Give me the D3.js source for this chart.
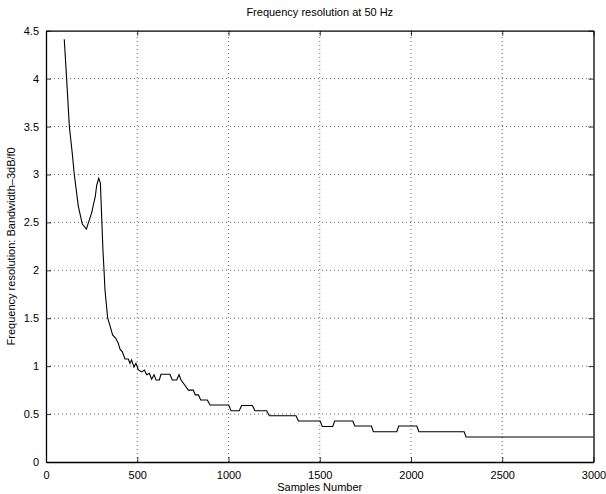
<!DOCTYPE html>
<html><head><meta charset="utf-8">
<script src="https://cdn.jsdelivr.net/npm/d3@7"></script>
<style>
body{margin:0;background:#fff;}
svg{display:block;font-family:"Liberation Sans",Arial,Helvetica,sans-serif;}
</style></head>
<body>
<script>
const titleText = "Frequency resolution at 50 Hz";
const xLabel = "Samples Number";
const yLabel = "Frequency resolution: Bandwidth\u20133dB/f0";
const xTicks = [0, 500, 1000, 1500, 2000, 2500, 3000];
const yTicks = [0, 0.5, 1, 1.5, 2, 2.5, 3, 3.5, 4, 4.5];
const samples = [100,113,128,144,155,177,199,205,221,250,270,278,289,298,312,318,323,338,351,365,382,396,405,418,433,451,460,469,482,493,506,524,539,552,566,579,592,603,621,630,679,692,716,729,740,756,780,807,818,835,848,884,899,1001,1014,1059,1072,1131,1145,1209,1224,1370,1383,1502,1514,1571,1582,1681,1692,1783,1794,1922,1933,2032,2043,2291,2302,3000];
const resolution = [4.41,4.0,3.5,3.22,3.0,2.67,2.48,2.47,2.43,2.60,2.77,2.89,2.96,2.91,2.21,2.0,1.80,1.50,1.42,1.326,1.29,1.24,1.18,1.15,1.075,1.075,1.03,1.065,0.99,1.03,0.96,0.94,0.96,0.91,0.925,0.863,0.91,0.856,0.856,0.915,0.915,0.856,0.856,0.91,0.856,0.814,0.75,0.75,0.70,0.70,0.647,0.647,0.595,0.595,0.535,0.535,0.59,0.59,0.535,0.535,0.483,0.483,0.428,0.428,0.37,0.37,0.428,0.428,0.376,0.376,0.316,0.316,0.376,0.376,0.316,0.316,0.261,0.261];

const W = 606, H = 494;
const m = {left:46, right:606-593.5, top:30.7, bottom:494-462};
const svg = d3.select("body").append("svg").attr("width",W).attr("height",H);
const x = d3.scaleLinear().domain([0,3000]).range([m.left, W-m.right]);
const y = d3.scaleLinear().domain([0,4.5]).range([H-m.bottom, m.top]);

// grid
const g = svg.append("g");
g.selectAll(".vg").data(xTicks.slice(1,-1)).join("line")
  .attr("x1",d=>x(d)).attr("x2",d=>x(d)).attr("y1",y(0)).attr("y2",y(4.5))
  .attr("stroke","#000").attr("stroke-width",0.6).attr("stroke-dasharray","1,3");
g.selectAll(".hg").data(yTicks.slice(1,-1)).join("line")
  .attr("y1",d=>y(d)).attr("y2",d=>y(d)).attr("x1",x(0)).attr("x2",x(3000))
  .attr("stroke","#000").attr("stroke-width",0.6).attr("stroke-dasharray","1,3");

// axes (inward ticks)
const fs = "11px";
const xa = svg.append("g").attr("transform",`translate(0,${y(0)})`)
  .call(d3.axisBottom(x).tickValues(xTicks).tickSizeInner(-5).tickSizeOuter(0).tickPadding(9).tickFormat(d3.format("d")));
const xt = svg.append("g").attr("transform",`translate(0,${y(4.5)})`)
  .call(d3.axisTop(x).tickValues(xTicks).tickSizeInner(-5).tickSizeOuter(0).tickFormat(""));
const ya = svg.append("g").attr("transform",`translate(${x(0)},0)`)
  .call(d3.axisLeft(y).tickValues(yTicks).tickSizeInner(-5).tickSizeOuter(0).tickPadding(9).tickFormat(d=>String(d)));
const yr = svg.append("g").attr("transform",`translate(${x(3000)},0)`)
  .call(d3.axisRight(y).tickValues(yTicks).tickSizeInner(-5).tickSizeOuter(0).tickFormat(""));
[xa,xt,ya,yr].forEach(a=>{
  a.select(".domain").attr("stroke","#000").attr("stroke-width",1.3);
  a.selectAll(".tick line").attr("stroke","#000").attr("stroke-width",0.8);
  a.selectAll("text").attr("font-size",fs).attr("fill","#000").attr("font-family","Liberation Sans,Arial,sans-serif");
});
ya.selectAll("text").attr("dx","2");

// line
svg.append("path").datum(samples.map((s,i)=>[s,resolution[i]]))
  .attr("fill","none").attr("stroke","#000").attr("stroke-width",1.1)
  .attr("d", d3.line().x(d=>x(d[0])).y(d=>y(d[1])));

// labels
svg.append("text").attr("x",(x(0)+x(3000))/2).attr("y",16).attr("text-anchor","middle")
  .attr("font-size","11px").text(titleText);
svg.append("text").attr("x",(x(0)+x(3000))/2).attr("y",491).attr("text-anchor","middle")
  .attr("font-size","11px").text(xLabel);
svg.append("text").attr("transform",`translate(15,${(y(0)+y(4.5))/2}) rotate(-90)`)
  .attr("text-anchor","middle").attr("font-size","11px").text(yLabel);
</script>
</body></html>
